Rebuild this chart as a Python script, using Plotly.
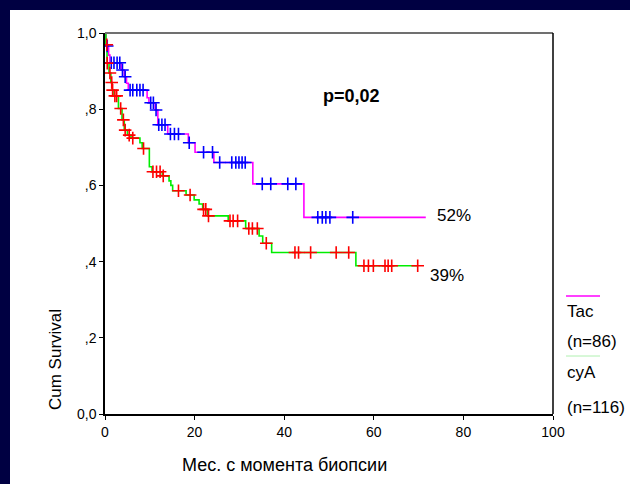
import plotly.graph_objects as go

# ---- data ----
tac_t = [0, 0.2, 0.8, 1.1, 3.6, 4.3, 4.8, 5.2, 9.4, 9.8, 11.2, 11.8, 14.0, 18.6, 20.1, 24.3, 33.0, 44.4, 71.6]
tac_s = [1.0, 0.966, 0.942, 0.922, 0.903, 0.885, 0.868, 0.850, 0.830, 0.817, 0.798, 0.759, 0.735, 0.712, 0.687, 0.660, 0.604, 0.516, 0.516]
tac_cens_t = [0.5, 1.4, 2.0, 2.7, 3.3, 3.9, 4.5, 5.6, 6.2, 7.1, 7.8, 8.5, 10.2, 10.8, 11.4,
              12.0, 12.7, 13.4, 14.6, 15.5, 16.4, 18.8, 22.0, 24.0, 25.6, 28.3, 29.2, 29.9, 30.6, 31.3,
              35.1, 37.0, 40.8, 42.6, 47.5, 48.5, 49.3, 50.2, 55.3]
tac_cens_s = [0.966, 0.922, 0.922, 0.922, 0.922, 0.903, 0.885, 0.850, 0.850, 0.850, 0.850, 0.850, 0.817, 0.817, 0.798,
              0.759, 0.759, 0.759, 0.735, 0.735, 0.735, 0.712, 0.687, 0.687, 0.660, 0.660, 0.660, 0.660, 0.660, 0.660,
              0.604, 0.604, 0.604, 0.604, 0.516, 0.516, 0.516, 0.516, 0.516]

cya_t = [0, 0.2, 0.45, 0.9, 1.3, 1.6, 2.0, 3.0, 3.8, 4.3, 5.0, 5.8, 7.8, 8.3, 9.9, 10.5, 12.8, 14.3, 14.7, 15.1,
         18.1, 19.9, 21.0, 21.8, 22.9, 27.5, 31.4, 34.4, 35.2, 37.2, 56.0, 69.8]
cya_s = [1.0, 0.969, 0.921, 0.895, 0.870, 0.850, 0.835, 0.802, 0.772, 0.745, 0.732, 0.724, 0.712, 0.697, 0.649, 0.636,
         0.625, 0.612, 0.600, 0.586, 0.575, 0.562, 0.551, 0.537, 0.520, 0.507, 0.487, 0.467, 0.448, 0.424, 0.389, 0.389]
cya_cens_t = [0.4, 0.5, 1.1, 1.5, 1.7, 2.2, 2.6, 3.5, 4.1, 4.5, 5.4, 6.2, 8.6, 10.7, 11.5, 12.3, 13.0, 16.4, 19.0,
              22.0, 22.5, 23.1, 27.9, 28.6, 29.6, 32.1, 32.9, 34.0, 36.0, 42.4, 43.2, 45.9, 51.6, 54.4,
              57.8, 58.8, 59.9, 62.5, 63.2, 64.0, 69.8]
cya_cens_s = [0.969, 0.921, 0.895, 0.870, 0.850, 0.835, 0.835, 0.802, 0.772, 0.745, 0.732, 0.724, 0.697, 0.636, 0.636, 0.636, 0.625, 0.586, 0.575,
              0.537, 0.537, 0.520, 0.507, 0.507, 0.507, 0.487, 0.487, 0.487, 0.448, 0.424, 0.424, 0.424, 0.424, 0.424,
              0.389, 0.389, 0.389, 0.389, 0.389, 0.389, 0.389]

x_ticks = [0, 20, 40, 60, 80, 100]
y_ticks = [0, 0.2, 0.4, 0.6, 0.8, 1.0]
y_ticktext = ["0,0", ",2", ",4", ",6", ",8", "1,0"]

# ---- layout geometry (pixels) ----
W, H = 630, 484
L, R, T, B = 105, 553, 33, 414


def px(x):
    return (x - L) / (R - L)


def py(y):
    return (B - y) / (B - T)


FONT = "Liberation Sans, Arial, sans-serif"

fig = go.Figure()
fig.add_trace(go.Scatter(x=tac_t, y=tac_s, mode="lines", line=dict(color="#ff00ff", width=1.6, shape="hv"),
                         showlegend=False, hoverinfo="skip"))
fig.add_trace(go.Scatter(x=cya_t, y=cya_s, mode="lines", line=dict(color="#00ee00", width=1.6, shape="hv"),
                         showlegend=False, hoverinfo="skip"))
fig.add_trace(go.Scatter(x=tac_cens_t, y=tac_cens_s, mode="markers",
                         marker=dict(symbol="cross-thin", size=9, line=dict(color="#0000ff", width=1.6)),
                         showlegend=False))
fig.add_trace(go.Scatter(x=cya_cens_t, y=cya_cens_s, mode="markers",
                         marker=dict(symbol="cross-thin", size=9, line=dict(color="#ff0000", width=1.6)),
                         showlegend=False))

shapes = [
    # navy frame
    dict(type="rect", xref="paper", yref="paper", x0=px(0), x1=px(10), y0=py(W), y1=py(0),
         fillcolor="#000042", line=dict(width=0), layer="below"),
    dict(type="rect", xref="paper", yref="paper", x0=px(0), x1=px(W), y0=py(10), y1=py(0),
         fillcolor="#000042", line=dict(width=0), layer="below"),
    # top and right frame lines
    dict(type="line", xref="paper", yref="paper", x0=0, x1=1, y0=1, y1=1, line=dict(color="#707070", width=2)),
    dict(type="line", xref="paper", yref="paper", x0=1, x1=1, y0=0, y1=1, line=dict(color="#000000", width=1.5)),
    # legend lines
    dict(type="line", xref="paper", yref="paper", x0=px(566), x1=px(600), y0=py(296), y1=py(296),
         line=dict(color="#ff00ff", width=1.5)),
    dict(type="line", xref="paper", yref="paper", x0=px(566), x1=px(600), y0=py(356), y1=py(356),
         line=dict(color="#b0f0b0", width=1)),
]

ann = []


def add_text(text, x, y, size=17, xanchor="left", bold=False, angle=0):
    ann.append(dict(text=f"<b>{text}</b>" if bold else text, x=px(x), y=py(y), xref="paper", yref="paper",
                    showarrow=False, xanchor=xanchor, yanchor="middle", textangle=angle,
                    font=dict(family=FONT, size=size, color="#000000")))


add_text("p=0,02", 351, 96, size=18, xanchor="center", bold=True)
add_text("52%", 435, 215, size=17)
add_text("39%", 428, 275, size=17)
add_text("Tac", 565, 311, size=17)
add_text("(n=86)", 565, 341, size=17)
add_text("cyA", 565, 372, size=17)
add_text("(n=116)", 565, 407, size=17)
add_text("Мес. с момента биопсии", 284, 465, size=18, xanchor="center")
add_text("Cum Survival", 55, 360, size=17, xanchor="center", angle=-90)

fig.update_layout(
    width=W, height=H,
    margin=dict(l=L, r=W - R, t=T, b=H - B, pad=0),
    paper_bgcolor="#ffffff", plot_bgcolor="#ffffff",
    font=dict(family=FONT, size=14, color="#000000"),
    shapes=shapes, annotations=ann,
    xaxis=dict(range=[0, 100], tickvals=x_ticks, ticks="outside", ticklen=4, tickcolor="#000000",
               showline=True, linecolor="#000000", linewidth=1.5, showgrid=False, zeroline=False,
               tickfont=dict(size=14), fixedrange=True),
    yaxis=dict(range=[0, 1], tickvals=y_ticks, ticktext=y_ticktext, ticks="outside", ticklen=4,
               tickcolor="#000000", showline=True, linecolor="#000000", linewidth=1.5, showgrid=False,
               zeroline=False, tickfont=dict(size=14), fixedrange=True),
)

fig.write_html("out.html", config={"displayModeBar": False},
               post_script="document.body.style.margin='0px';")
